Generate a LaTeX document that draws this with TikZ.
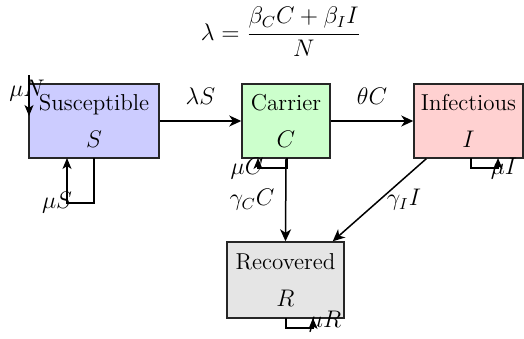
\documentclass[tikz,border=0pt]{standalone}
\usetikzlibrary{arrows.meta}
\begin{document}
\begin{tikzpicture}[x=0.5pt,y=-0.5pt,
  comp/.style={draw=black!85,line width=0.75pt,inner sep=0pt,align=center,
    font=\fontsize{11.5}{18.5}\selectfont},
  lbl/.style={inner sep=0pt,font=\fontsize{11.5}{13}\selectfont},
  flow/.style={draw=black,line width=0.75pt,-{Stealth[length=6pt,width=5.5pt,inset=1.8pt]}},
  loopline/.style={draw=black,line width=0.75pt,-{Stealth[length=5.5pt,width=4.5pt,inset=1.5pt]}}]
\useasboundingbox (0,0) rectangle (524,338);
\fill[white] (0,0) rectangle (524,338);

% compartments
\node[comp,fill=blue!20,minimum width=65pt,minimum height=37pt] (S) at (94,121) {Susceptible\\$S$};
\node[comp,fill=green!20,minimum width=44pt,minimum height=37pt] (C) at (286,121) {Carrier\\$C$};
\node[comp,fill=red!18,minimum width=54.5pt,minimum height=37pt] (I) at (468.5,121) {Infectious\\$I$};
\node[comp,fill=black!10,minimum width=58.5pt,minimum height=38pt] (R) at (285.5,280) {Recovered\\$R$};

% formula
\node[lbl] (lam) at (281,32) {$\displaystyle \lambda=\frac{\beta_C C+\beta_I I}{N}$};

% main flows
\draw[flow] (S.east) -- node[lbl,above=8pt] (lS) {$\lambda S$} (C.west);
\draw[flow] (C.east) -- node[lbl,above=8pt] (tC) {$\theta C$} (I.west);
\draw[flow] (C.south) -- (R.north);
\node[lbl] (gC) at (252,200) {$\gamma_C C$};
\coordinate (Iout) at ([xshift=6.5pt]I.south west);
\coordinate (Rin) at ([xshift=-6pt]R.north east);
\draw[flow] (Iout) -- (Rin);
\node[lbl] (gI) at (404,200) {$\gamma_I I$};

% birth
\coordinate (Ntop) at (29,75);
\coordinate (Nend) at (29,116);
\draw[loopline] (Ntop) -- (Nend);
\node[lbl] (muN) at (27,91) {$\mu N$};

% deaths / loops
\coordinate (S1) at (94,158);
\coordinate (S2) at (67,158);
\draw[loopline] (S1) -- (94,203) -- (67,203) -- (S2);
\node[lbl] (muS) at (57,203) {$\mu S$};

\coordinate (C1) at (287,158);
\coordinate (C2) at (258,158);
\draw[loopline] (C1) -- (287,168) -- (258,168) -- (C2);
\node[lbl] (muC) at (247,169) {$\mu C$};

\coordinate (I1) at (471,158);
\coordinate (I2) at (498,158);
\draw[loopline] (I1) -- (471,168) -- (498,168) -- (I2);
\node[lbl] (muI) at (504,169) {$\mu I$};

\coordinate (R1) at (286,318);
\coordinate (R2) at (313,318);
\draw[loopline] (R1) -- (286,328) -- (313,328) -- (R2);
\node[lbl] (muR) at (325,322) {$\mu R$};
\end{tikzpicture}
\end{document}
